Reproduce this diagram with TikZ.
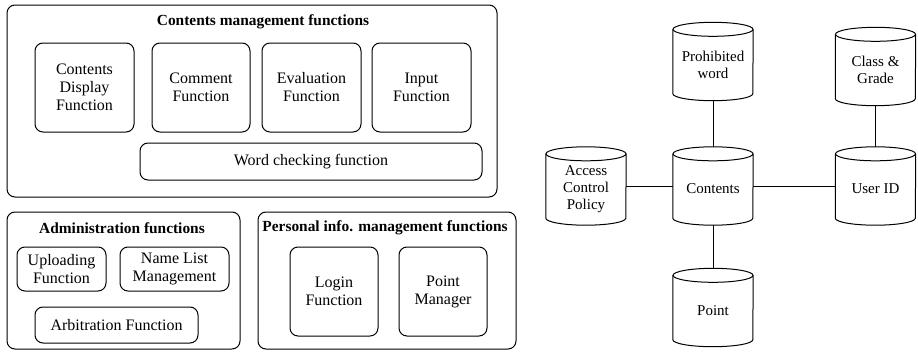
\documentclass[tikz,border=0pt]{standalone}
\usepackage{fontspec}
\setmainfont{Liberation Serif}
\newfontfamily\tnr{Liberation Serif}
\begin{document}
\begin{tikzpicture}[x=1pt,y=-1pt,
  grp/.style={draw,line width=1pt,rounded corners=8pt,inner sep=0pt},
  fbox/.style={draw,line width=1pt,rounded corners=8pt,align=center,inner sep=1pt,
     font=\tnr\fontsize{16}{18}\selectfont},
  ttl/.style={font=\tnr\fontsize{15.4}{17}\selectfont\bfseries,inner sep=0pt},
  cyltxt/.style={align=center,font=\tnr\fontsize{15}{17}\selectfont,yshift=-3pt,inner sep=0pt},
  cylnode/.style={minimum width=80pt,minimum height=78pt,inner sep=0pt},
  conn/.style={line width=1pt}]
\fill[white] (0,0) rectangle (918,351);
\useasboundingbox (0,0) rectangle (918,351);

% group boxes
\node[grp,minimum width=490pt,minimum height=192pt] (cm) at (252,101) {};
\node[grp,minimum width=233pt,minimum height=137pt] (adm) at (123.5,280.5) {};
\node[grp,minimum width=258pt,minimum height=137pt] (pim) at (387,280.5) {};
\node[ttl] (cmt) at (263,22) {Contents management functions};
\node[ttl] (admt) at (122,228) {Administration functions};
\node[ttl] (pimt) at (385,228) {Personal info. management functions};

% function boxes
\node[fbox,minimum width=99pt,minimum height=89pt] (cdf) at (84.5,87.5) {Contents\\Display\\Function};
\node[fbox,minimum width=98pt,minimum height=89pt] (cf) at (201,87.5) {Comment\\Function};
\node[fbox,minimum width=99pt,minimum height=89pt] (ef) at (311.5,87.5) {Evaluation\\Function};
\node[fbox,minimum width=99pt,minimum height=89pt] (inf) at (421.5,87.5) {Input\\Function};
\node[fbox,minimum width=342pt,minimum height=37pt] (wcf) at (311,161.5) {Word checking function};
\node[fbox,minimum width=89pt,minimum height=44pt] (upl) at (61.5,269) {Uploading\\Function};
\node[fbox,minimum width=109pt,minimum height=44pt] (nlm) at (174.5,269) {Name List\\Management};
\node[fbox,minimum width=163pt,minimum height=36pt] (arb) at (116.5,325) {Arbitration Function};
\node[fbox,minimum width=88pt,minimum height=89pt] (login) at (334,291.5) {Login\\Function};
\node[fbox,minimum width=88pt,minimum height=89pt] (pm) at (443,291.5) {Point\\Manager};

% cylinders
\newcommand{\cylshape}[1]{%
  \draw[line width=1pt] ([yshift=-7pt]#1.north west) -- ([yshift=7pt]#1.south west)
    arc[start angle=180,end angle=360,x radius=40pt,y radius=7pt]
    -- ([yshift=-7pt]#1.north east);
  \draw[line width=1pt] ([yshift=-7pt]#1.north) ellipse[x radius=40pt,y radius=7pt];}
\node[cylnode] (pw) at (713,61.5) {};
\node[cylnode] (con) at (713,186) {};
\node[cylnode] (pt) at (713,307.5) {};
\node[cylnode] (acp) at (586,186) {};
\node[cylnode] (uid) at (875.5,186) {};
\node[cylnode] (cg) at (875.5,66.5) {};
\cylshape{pw}\cylshape{con}\cylshape{pt}\cylshape{acp}\cylshape{uid}\cylshape{cg}
\node[cyltxt] (pwt) at (pw.center) {Prohibited\\word};
\node[cyltxt] (cont) at (con.center) {Contents};
\node[cyltxt] (ptt) at (pt.center) {Point};
\node[cyltxt] (acpt) at (acp.center) {Access\\Control\\Policy};
\node[cyltxt] (uidt) at (uid.center) {User ID};
\node[cyltxt] (cgt) at (cg.center) {Class \&\\Grade};

\draw[conn] (pw.south) -- (con.north);
\draw[conn] (con.south) -- (pt.north);
\draw[conn] (acp.east) -- (con.west);
\draw[conn] (con.east) -- (uid.west);
\draw[conn] (cg.south) -- (uid.north);
\end{tikzpicture}
\end{document}
